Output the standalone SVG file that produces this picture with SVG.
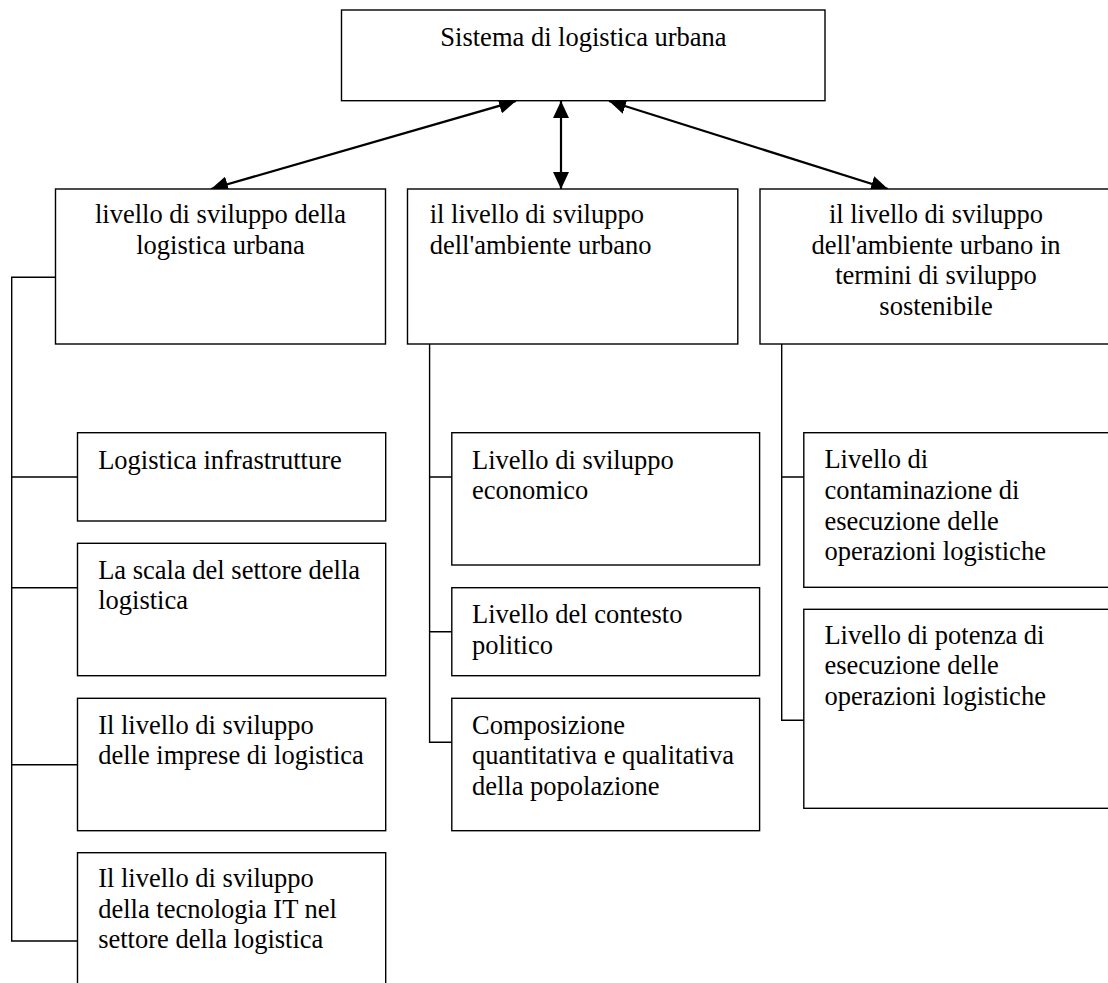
<svg xmlns="http://www.w3.org/2000/svg" width="1108" height="983" viewBox="0 0 1108 983">
<style>
rect{fill:#fff;stroke:#000;stroke-width:1.4}
text{font-family:"Liberation Serif","Times New Roman",serif;font-size:26.5px;fill:#000}
.c{text-anchor:middle}
.ln{fill:none;stroke:#000;stroke-width:1.4}
.ar{fill:none;stroke:#000;stroke-width:2.2;marker-start:url(#ah);marker-end:url(#ah)}
</style>
<defs>
<marker id="ah" viewBox="0 0 17 16" refX="17" refY="8" markerWidth="17" markerHeight="16" markerUnits="userSpaceOnUse" orient="auto-start-reverse">
<path d="M0,0 L17,8 L0,16 Z" fill="#000"/>
</marker>
</defs>
<rect width="1108" height="983" style="fill:#fff;stroke:none"/>
<g id="connectors">
<path class="ar" d="M516,101 L211,189"/>
<path class="ar" d="M561,101 L561,189"/>
<path class="ar" d="M609,101 L888,189"/>
<path class="ln" d="M55.5,277.3 H11.7 V941 H77.5 M11.7,477 H77.5 M11.7,587.7 H77.5 M11.7,764.7 H77.5"/>
<path class="ln" d="M429.6,344 V742.3 H451.8 M429.6,477 H451.8 M429.6,631.7 H451.8"/>
<path class="ln" d="M781.7,344 V720.3 H803.8 M781.7,477 H803.8"/>
</g>
<g id="root">
<rect x="341.5" y="10" width="483.5" height="90.7"/>
<text class="c" x="583.5" y="46">Sistema di logistica urbana</text>
</g>
<g id="n-logistica">
<rect x="55.5" y="189" width="330" height="155"/>
<text class="c" x="220.5" y="223">livello di sviluppo della</text>
<text class="c" x="220.5" y="253.6">logistica urbana</text>
</g>
<g id="n-ambiente">
<rect x="407.5" y="189" width="330.3" height="155"/>
<text x="429.7" y="223">il livello di sviluppo</text>
<text x="429.7" y="253.6">dell'ambiente urbano</text>
</g>
<g id="n-sostenibile">
<rect x="760" y="189" width="360" height="155"/>
<text class="c" x="936" y="223">il livello di sviluppo</text>
<text class="c" x="936" y="253.6">dell'ambiente urbano in</text>
<text class="c" x="936" y="284.2">termini di sviluppo</text>
<text class="c" x="936" y="314.8">sostenibile</text>
</g>
<g id="n-infrastrutture">
<rect x="77.5" y="432.7" width="308.2" height="88.3"/>
<text x="98.2" y="468.5">Logistica infrastrutture</text>
</g>
<g id="n-scala">
<rect x="77.5" y="543.3" width="308.2" height="132.4"/>
<text x="98.2" y="578.6">La scala del settore della</text>
<text x="98.2" y="609.2">logistica</text>
</g>
<g id="n-imprese">
<rect x="77.5" y="698.3" width="308.2" height="132.4"/>
<text x="98.2" y="733.6">Il livello di sviluppo</text>
<text x="98.2" y="764.2">delle imprese di logistica</text>
</g>
<g id="n-tecnologia">
<rect x="77.5" y="852.7" width="308.2" height="160"/>
<text x="98.2" y="887">Il livello di sviluppo</text>
<text x="98.2" y="917.6">della tecnologia IT nel</text>
<text x="98.2" y="948.2">settore della logistica</text>
</g>
<g id="n-economico">
<rect x="451.8" y="432.7" width="307.8" height="132.3"/>
<text x="472" y="468.5">Livello di sviluppo</text>
<text x="472" y="499.1">economico</text>
</g>
<g id="n-politico">
<rect x="451.8" y="587.7" width="307.8" height="88"/>
<text x="472" y="623">Livello del contesto</text>
<text x="472" y="653.6">politico</text>
</g>
<g id="n-popolazione">
<rect x="451.8" y="698.3" width="307.8" height="132.4"/>
<text x="472" y="733.6">Composizione</text>
<text x="472" y="764.2">quantitativa e qualitativa</text>
<text x="472" y="794.8">della popolazione</text>
</g>
<g id="n-contaminazione">
<rect x="803.8" y="432.7" width="320" height="154.6"/>
<text x="824.4" y="468.3">Livello di</text>
<text x="824.4" y="498.9">contaminazione di</text>
<text x="824.4" y="529.5">esecuzione delle</text>
<text x="824.4" y="560.1">operazioni logistiche</text>
</g>
<g id="n-potenza">
<rect x="803.8" y="609.3" width="320" height="199"/>
<text x="824.4" y="643.5">Livello di potenza di</text>
<text x="824.4" y="674.1">esecuzione delle</text>
<text x="824.4" y="704.7">operazioni logistiche</text>
</g>
</svg>
